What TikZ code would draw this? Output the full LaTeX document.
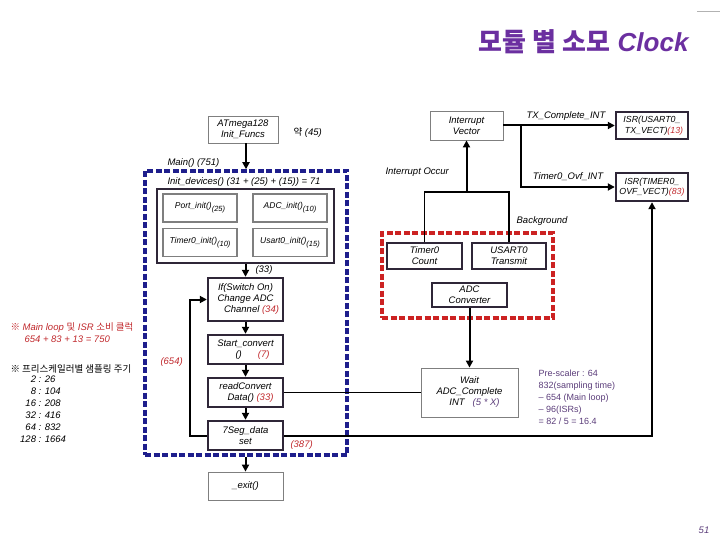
\documentclass[tikz,border=0pt]{standalone}
\usepackage{fontspec}
\setmainfont{Liberation Sans}
\newfontfamily\krfont{Noto Sans CJK KR}
\newfontfamily\arialfont{Liberation Sans}
\usetikzlibrary{arrows.meta}
\definecolor{navyline}{HTML}{1E1E8C}
\definecolor{redline}{HTML}{CC2222}
\definecolor{boxdark}{HTML}{2F2638}
\definecolor{boxgray}{HTML}{7F7F7F}
\definecolor{cntred}{HTML}{C0282C}
\definecolor{titlepurple}{HTML}{6B2FA0}
\definecolor{notepurple}{HTML}{5B3D7A}
\newcommand{\cnt}[1]{\textcolor{cntred}{#1}}
\newcommand{\sub}[1]{\raisebox{-3pt}{\fontsize{7.5}{8}\selectfont(#1)}}

\begin{document}
\begin{tikzpicture}[x=1pt,y=-1pt,
    every node/.style={font=\fontsize{9.5}{11}\selectfont\itshape},
    graybox/.style={draw=boxgray,line width=0.8pt,align=center,inner sep=0pt},
    initfn/.style={draw=boxgray,line width=1.8pt,align=center,inner sep=0pt,minimum width=74pt,minimum height=28pt,font=\fontsize{8.5}{9}\selectfont\itshape},
    darkbox/.style={draw=boxdark,line width=2.4pt,align=center,inner sep=0pt},
    isrbox/.style={darkbox,minimum width=72pt,font=\fontsize{8.8}{10.5}\selectfont\itshape},
    flow/.style={line width=2pt,-{Triangle[length=7pt,width=7pt]}},
    link/.style={line width=1.6pt}]
  \useasboundingbox (0,0) rectangle (720,540);
  \draw[boxgray!60] (697,11) -- (720,11);
  \node (title) [anchor=east,text=titlepurple,font=\fontsize{26}{30}\selectfont\bfseries] at (692,42) {{\krfont 모듈 별 소모} \itshape Clock};

  % main program
  \node (atm) [graybox,minimum width=70pt,minimum height=27pt] at (243,129.5) {ATmega128\\Init\_Funcs};
  \node (atmnote) [anchor=west] at (290,133) {{\krfont 약} (45)};
  \node (mainbox) [draw=navyline,line width=3.5pt,dash pattern=on 6pt off 2.5pt,minimum width=202pt,minimum height=284pt] at (246,313) {};
  \node (mainlbl) [anchor=west] at (164,163) {Main() (751)};
  \node (initlbl) [anchor=west] at (164,182) {Init\_devices() (31 + (25) + (15)) = 71};
  \node (initbox) [darkbox,minimum width=177pt,minimum height=74pt] at (245.5,226) {};
  \node (port) [initfn] at (200,208) {Port\_init()\sub{25}};
  \node (adc) [initfn] at (290,208) {ADC\_init()\sub{10}};
  \node (timer) [initfn] at (200,242.5) {Timer0\_init()\sub{10}};
  \node (usart) [initfn] at (290,242.5) {Usart0\_init()\sub{15}};
  \node (ifbox) [darkbox,minimum width=75pt,minimum height=43pt] at (245.5,299.5) {If(Switch On)\\Change ADC\\\hspace*{12pt}Channel \cnt{(34)}};
  \node (start) [darkbox,minimum width=75pt,minimum height=29pt] at (245.5,349.5) {Start\_convert\\\hspace*{14pt}()\hspace{16pt}\cnt{(7)}};
  \node (readc) [darkbox,minimum width=75pt,minimum height=29pt] at (245.5,392.5) {readConvert\\\hspace*{10pt}Data() \cnt{(33)}};
  \node (seg) [darkbox,minimum width=75pt,minimum height=29pt] at (245.5,435.5) {7Seg\_data\\set};
  \node (exit) [graybox,minimum width=75pt,minimum height=28pt] at (245.5,486) {\_exit()};
  \node (n33) [anchor=west] at (252,270) {(33)};
  \node (n654) [anchor=west,text=cntred] at (157,362) {(654)};
  \node (n387) [anchor=west,text=cntred] at (287,445) {(387)};

  \draw[flow] (atm.south -| mainbox.north) -- (mainbox.north);
  \draw[flow] (initbox.south) -- (ifbox.north);
  \draw[flow] (ifbox.south) -- (start.north);
  \draw[flow] (start.south) -- (readc.north);
  \draw[flow] (readc.south) -- (seg.north);
  \draw[flow] (seg.west) -- ++(-17,0) |- (ifbox.west);
  \draw[flow] (mainbox.south -| exit.north) -- (exit.north);

  % interrupts
  \node (iv) [graybox,minimum width=73pt,minimum height=29pt] at (466.5,125.5) {Interrupt\\Vector};
  \node (isru) [isrbox,minimum height=27pt] at (652,125.5) {ISR(USART0\_\\\hspace*{4pt}TX\_VECT)\cnt{(13)}};
  \node (isrt) [isrbox,minimum height=28pt] at (652,187) {ISR(TIMER0\_\\OVF\_VECT)\cnt{(83)}};
  \coordinate (ovfsplit) at (521,125.5);
  \draw[flow] (iv.east) -- (isru.west);
  \draw[flow] (ovfsplit) |- (isrt.west);
  \node (txlbl) at (566,116) {TX\_Complete\_INT};
  \node (ovflbl) at (568,177) {Timer0\_Ovf\_INT};
  \node (occur) [anchor=west] at (382,172) {Interrupt Occur};

  % background
  \node (bgbox) [draw=redline,line width=3.5pt,dash pattern=on 6pt off 2.5pt,minimum width=171pt,minimum height=85pt] at (467.5,275.5) {};
  \node (bglbl) at (542,221) {Background};
  \node (tcnt) [darkbox,minimum width=75pt,minimum height=26pt] at (424.5,256) {Timer0\\Count};
  \node (utx) [darkbox,minimum width=74pt,minimum height=26pt] at (509,256) {USART0\\Transmit};
  \node (adcc) [darkbox,minimum width=75pt,minimum height=24pt] at (469.5,295) {ADC\\Converter};
  \coordinate (occjoin) at (466.5,192);
  \draw[link] (tcnt.north) |- (occjoin) -| (utx.north);
  \draw[flow] (occjoin) -- (iv.south);

  \node (wait) [graybox,minimum width=97pt,minimum height=49pt] at (469.5,392.5) {Wait\\ADC\_Complete\\\hspace*{10pt}INT\hspace{8pt}\textcolor{notepurple}{(5 * X)}};
  \draw[flow] (adcc.south) -- (wait.north);
  \draw[line width=0.8pt] (readc.east) -- (wait.west);
  \draw[flow] (seg.east) -| (isrt.south);
  \node (prescale) [anchor=west,align=left,text=notepurple,font=\arialfont\fontsize{9}{12}\selectfont] at (535,397) {Pre-scaler : 64\\832(sampling time)\\– 654 (Main loop)\\– 96(ISRs)\\= 82 / 5 = 16.4};

  % notes
  \node (loopnote) [anchor=west,text=cntred] at (7,328) {{\krfont ※} Main loop {\krfont 및} ISR {\krfont 소비 클럭}};
  \node (loopsum) [anchor=west,text=cntred] at (21,339) {654 + 83 + 13 = 750};
  \node (ratenote) [anchor=west] at (7,369) {{\krfont ※ 프리스케일러별 샘플링 주기}};
  \node (rates) [anchor=west,inner sep=0pt,font=\fontsize{9.5}{12}\selectfont\itshape] at (20,410) {\setlength{\tabcolsep}{0pt}\begin{tabular}{r@{ : }l}2&26\\8&104\\16&208\\32&416\\64&832\\128&1664\end{tabular}};
  \node (pagenum) [text=notepurple] at (704,530) {51};
\end{tikzpicture}
\end{document}
